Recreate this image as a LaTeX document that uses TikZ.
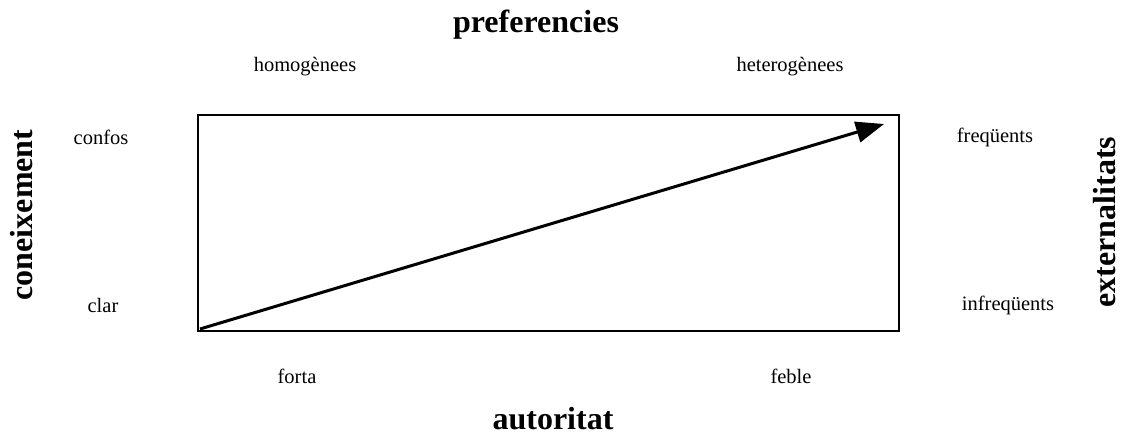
\documentclass[tikz,border=0pt]{standalone}
\usepackage{fontspec}
\setmainfont{Liberation Serif}
\usetikzlibrary{arrows.meta}
\tikzset{
  small/.style={font=\fontsize{20.5}{24}\selectfont, inner sep=0pt},
  title/.style={font=\fontsize{32}{36}\selectfont\bfseries, inner sep=0pt},
  frame/.style={draw, line width=2pt},
  trend/.style={line width=3pt, -{Triangle[length=28pt,width=21pt]}}
}
\begin{document}
\begin{tikzpicture}[x=1pt,y=-1pt]
\useasboundingbox (0,0) rectangle (1122,436);
\node[frame, minimum width=701pt, minimum height=216pt, inner sep=0pt] (box) at (548.5,223) {};
\coordinate (start) at (200,329);
\coordinate (tip) at (884,124);
\draw[trend] (start) -- (tip);
\node[title, anchor=base] (pref) at (536,33) {preferencies};
\node[small] (homo) at (305,67) {homogènees};
\node[small] (hetero) at (790,67) {heterogènees};
\node[small] (confos) at (101,137) {confos};
\node[small] (clar) at (103,305) {clar};
\node[small] (freq) at (995,137) {freqüents};
\node[small] (infreq) at (1008,305) {infreqüents};
\node[small] (forta) at (297,376) {forta};
\node[small] (feble) at (791,376) {feble};
\node[title, anchor=base] (aut) at (553,429) {autoritat};
\node[title, rotate=90, anchor=base] (con) at (32,215) {coneixement};
\node[title, rotate=90, anchor=base] (ext) at (1115,222) {externalitats};
\end{tikzpicture}
\end{document}
